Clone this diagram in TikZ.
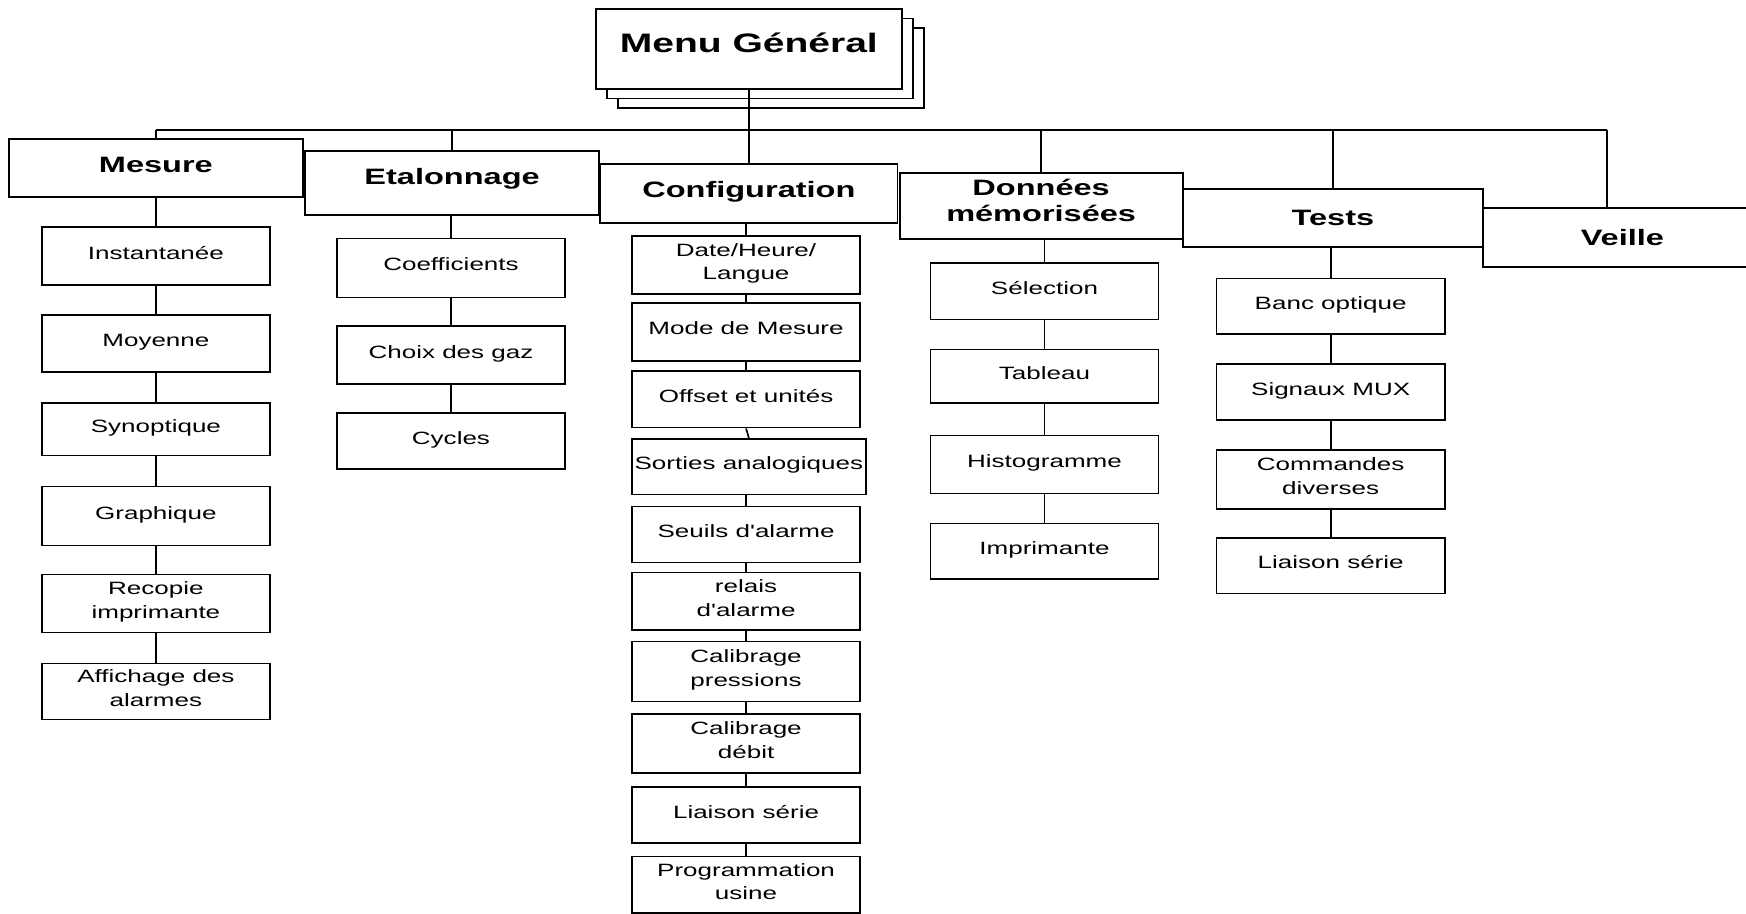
\documentclass[tikz,border=0pt]{standalone}
\usepackage{fontspec}
\setmainfont{Liberation Sans}[FakeStretch=1.46]
% family without TeX ligature mapping, for a straight apostrophe
\newfontfamily\straightq{Liberation Sans}[FakeStretch=1.46]
\newcommand{\apos}{{\straightq'}}
\begin{document}
\begin{tikzpicture}[x=1pt,y=-1pt,
  every node/.style={inner sep=0pt, align=center},
  rule/.style={line width=1.5pt},
  rootbox/.style={draw, fill=white, line width=1.7pt, minimum width=275pt, minimum height=72pt,
    text depth=12pt, font=\bfseries\fontsize{24}{28}\selectfont},
  headbox/.style={draw, fill=white, line width=1.7pt, font=\bfseries\fontsize{20}{24}\selectfont},
  leafbox/.style={draw, fill=white, line width=1.4pt, minimum width=205pt, minimum height=51pt,
    text depth=6pt, font=\fontsize{16}{21}\selectfont}]
\useasboundingbox (0,0) rectangle (1568,820);
\clip (0,0) rectangle (1568,820);

% stacked sheets behind the main menu
\draw[line width=1.5pt, fill=white] (555,25) rectangle (830,97);
\draw[line width=1.5pt, fill=white] (545,16.5) rectangle (820,88.5);
\node[rootbox] (menu) at (672.5,44) {Menu Général};

% first level
\node[headbox, minimum width=264pt, minimum height=52pt, text depth=6pt] (mesure) at (140,151) {Mesure};
\node[headbox, minimum width=264pt, minimum height=57pt, text depth=12pt] (etal) at (406,164.5) {Etalonnage};
\node[headbox, minimum width=267pt, minimum height=53pt, text depth=6pt] (config) at (672.5,173.5) {Configuration};
\node[headbox, minimum width=254pt, minimum height=60pt, text depth=10pt] (donnees) at (935,185) {Données\\mémorisées};
\node[headbox, minimum width=270pt, minimum height=52pt] (tests) at (1197,196) {Tests};
\node[headbox, minimum width=250pt, minimum height=53pt] (veille) at (1457,213.5) {Veille};

% Mesure
\node[leafbox, minimum height=52pt] (m1) at (140,230) {Instantanée};
\node[leafbox] (m2) at (140,308.5) {Moyenne};
\node[leafbox, minimum height=47pt] (m3) at (140,385.5) {Synoptique};
\node[leafbox, minimum height=53pt] (m4) at (140,463.5) {Graphique};
\node[leafbox, minimum height=52pt] (m5) at (140,542) {Recopie\\imprimante};
\node[leafbox, minimum height=50pt] (m6) at (140,621) {Affichage des\\alarmes};

% Etalonnage
\node[leafbox, minimum height=53pt] (e1) at (405,240.5) {Coefficients};
\node[leafbox, minimum height=52pt] (e2) at (405,319) {Choix des gaz};
\node[leafbox, minimum height=50pt] (e3) at (405,396) {Cycles};

% Configuration
\node[leafbox, minimum height=52pt] (c1) at (670,238) {Date/Heure/\\Langue};
\node[leafbox, minimum height=52pt] (c2) at (670,298) {Mode de Mesure};
\node[leafbox] (c3) at (670,358.5) {Offset et unités};
\node[leafbox, minimum height=50pt, minimum width=210pt] (c4) at (672.5,419) {Sorties analogiques};
\node[leafbox, minimum height=50pt] (c5) at (670,480) {Seuils d\apos alarme};
\node[leafbox, minimum height=52pt] (c6) at (670,540) {relais\\d\apos alarme};
\node[leafbox, minimum height=54pt] (c7) at (670,603) {Calibrage\\pressions};
\node[leafbox, minimum height=53pt] (c8) at (670,667.5) {Calibrage\\débit};
\node[leafbox, minimum height=50pt] (c9) at (670,732) {Liaison série};
\node[leafbox] (c10) at (670,794.5) {Programmation\\usine};

% Donnees memorisees
\node[leafbox] (d1) at (938,261.5) {Sélection};
\node[leafbox, minimum height=48pt] (d2) at (938,338) {Tableau};
\node[leafbox, minimum height=52pt] (d3) at (938,417) {Histogramme};
\node[leafbox, minimum height=50pt] (d4) at (938,495) {Imprimante};

% Tests
\node[leafbox, minimum height=50pt] (t1) at (1195,275) {Banc optique};
\node[leafbox, minimum height=50pt] (t2) at (1195,352) {Signaux MUX};
\node[leafbox, minimum height=53pt] (t3) at (1195,430.5) {Commandes\\diverses};
\node[leafbox, minimum height=50pt] (t4) at (1195,508) {Liaison série};

% main bus
\coordinate (busL) at (140,117);
\coordinate (busR) at (1443,117);
\draw[rule] (busL) -- (busR);
\draw[rule] (menu.south) -- (config.north);
\draw[rule] (mesure.north) -- (mesure.north |- busL);
\draw[rule] (etal.north) -- (etal.north |- busL);
\draw[rule] (donnees.north) -- (donnees.north |- busL);
\draw[rule] (tests.north) -- (tests.north |- busL);
\draw[rule] (busR) -- (veille.north -| busR);

% columns
\draw[rule] (m1.north |- mesure.south) -- (m1.north);
\draw[rule] (e1.north |- etal.south) -- (e1.north);
\draw[rule] (c1.north |- config.south) -- (c1.north);
\draw[rule] (d1.north |- donnees.south) -- (d1.north);
\draw[rule] (t1.north |- tests.south) -- (t1.north);
\foreach \a/\b in {m1/m2,m2/m3,m3/m4,m4/m5,m5/m6,e1/e2,e2/e3,
  c1/c2,c2/c3,c3/c4,c5/c6,c6/c7,c7/c8,c8/c9,c9/c10,d1/d2,d2/d3,d3/d4,t1/t2,t2/t3,t3/t4}
  \draw[rule] (\a.south) -- (\b.north);
\draw[rule] (c4.south -| c5.north) -- (c5.north);
\end{tikzpicture}
\end{document}
